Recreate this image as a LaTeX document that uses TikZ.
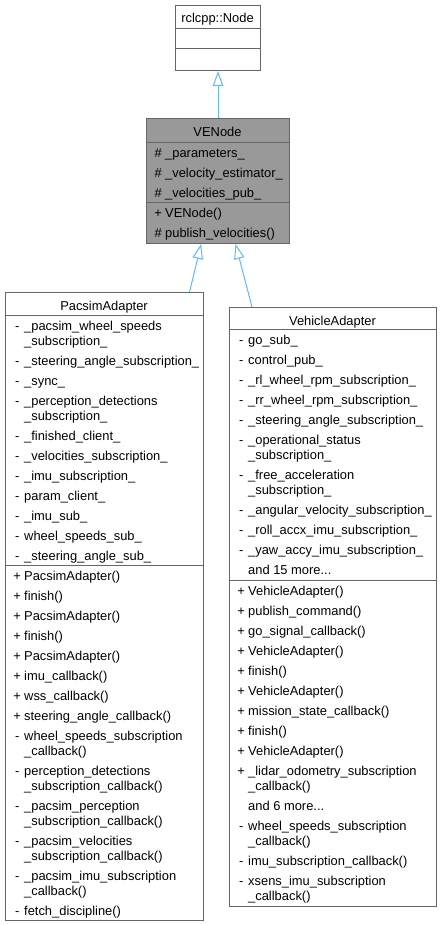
\documentclass[tikz,border=0pt]{standalone}
\usepackage{fontspec}
\setmainfont{Liberation Sans}
\usetikzlibrary{arrows.meta}
\definecolor{edgeblue}{HTML}{63B8FF}
\definecolor{bord}{HTML}{666666}
\definecolor{curfill}{HTML}{999999}
\newcommand\rs{\rule[-4.5pt]{0pt}{15pt}}
\newcommand\mem[2]{\rs\makebox[14pt][c]{#1}#2}
\newcommand\cont[1]{\rs\hspace*{14pt}#1}
\begin{document}
\begin{tikzpicture}[x=1pt,y=-1pt,
  comp/.style={draw=bord, line width=1pt, inner sep=0pt, anchor=north west},
  txt/.style={inner sep=0pt, anchor=north west, align=left, font=\fontsize{12.9pt}{15pt}\selectfont},
  ttl/.style={inner sep=0pt, anchor=base, font=\fontsize{12.9pt}{15pt}\selectfont},
  inh/.style={draw=edgeblue, line width=1pt, -{Triangle[open, length=15pt, width=10.5pt]}}]
\useasboundingbox (0,0) rectangle (442,925);
\fill[white] (0,0) rectangle (442,925);

% rclcpp::Node
\node[comp, fill=white, minimum width=85pt, minimum height=23pt] (rcl-t) at (175,5) {};
\node[comp, fill=white, minimum width=85pt, minimum height=20pt] (rcl-a) at (175,28) {};
\node[comp, fill=white, minimum width=85pt, minimum height=22pt] (rcl-m) at (175,48) {};
\node[ttl] (rcl-name) at (217.5,22.5) {rclcpp::Node};

% VENode
\node[comp, fill=curfill, minimum width=143pt, minimum height=24pt] (ve-t) at (146,118) {};
\node[comp, fill=curfill, minimum width=143pt, minimum height=60pt] (ve-a) at (146,142) {};
\node[comp, fill=curfill, minimum width=143pt, minimum height=41pt] (ve-m) at (146,202) {};
\node[ttl] (ve-name) at (217.5,136.5) {VENode};
\node[txt] (ve-atxt) at (151,147) {\mem{\#}{\_parameters\_}\\[5pt]\mem{\#}{\_velocity\_estimator\_}\\[5pt]\mem{\#}{\_velocities\_pub\_}};
\node[txt] (ve-mtxt) at (151,207) {\mem{+}{VENode()}\\[5pt]\mem{\#}{publish\_velocities()}};

% PacsimAdapter
\node[comp, fill=white, minimum width=198pt, minimum height=23pt] (pa-t) at (5,292) {};
\node[comp, fill=white, minimum width=198pt, minimum height=250pt] (pa-a) at (5,315) {};
\node[comp, fill=white, minimum width=198pt, minimum height=355pt] (pa-m) at (5,565) {};
\node[ttl] (pa-name) at (104,310) {PacsimAdapter};
\node[txt] (pa-atxt) at (10,320) {%
\mem{-}{\_pacsim\_wheel\_speeds}\\\cont{\_subscription\_}\\[5pt]
\mem{-}{\_steering\_angle\_subscription\_}\\[5pt]
\mem{-}{\_sync\_}\\[5pt]
\mem{-}{\_perception\_detections}\\\cont{\_subscription\_}\\[5pt]
\mem{-}{\_finished\_client\_}\\[5pt]
\mem{-}{\_velocities\_subscription\_}\\[5pt]
\mem{-}{\_imu\_subscription\_}\\[5pt]
\mem{-}{param\_client\_}\\[5pt]
\mem{-}{\_imu\_sub\_}\\[5pt]
\mem{-}{wheel\_speeds\_sub\_}\\[5pt]
\mem{-}{\_steering\_angle\_sub\_}};
\node[txt] (pa-mtxt) at (10,570) {%
\mem{+}{PacsimAdapter()}\\[5pt]
\mem{+}{finish()}\\[5pt]
\mem{+}{PacsimAdapter()}\\[5pt]
\mem{+}{finish()}\\[5pt]
\mem{+}{PacsimAdapter()}\\[5pt]
\mem{+}{imu\_callback()}\\[5pt]
\mem{+}{wss\_callback()}\\[5pt]
\mem{+}{steering\_angle\_callback()}\\[5pt]
\mem{-}{wheel\_speeds\_subscription}\\\cont{\_callback()}\\[5pt]
\mem{-}{perception\_detections}\\\cont{\_subscription\_callback()}\\[5pt]
\mem{-}{\_pacsim\_perception}\\\cont{\_subscription\_callback()}\\[5pt]
\mem{-}{\_pacsim\_velocities}\\\cont{\_subscription\_callback()}\\[5pt]
\mem{-}{\_pacsim\_imu\_subscription}\\\cont{\_callback()}\\[5pt]
\mem{-}{fetch\_discipline()}};

% VehicleAdapter
\node[comp, fill=white, minimum width=207pt, minimum height=22pt] (va-t) at (229,307) {};
\node[comp, fill=white, minimum width=207pt, minimum height=251pt] (va-a) at (229,329) {};
\node[comp, fill=white, minimum width=207pt, minimum height=326pt] (va-m) at (229,580) {};
\node[ttl] (va-name) at (332.5,325) {VehicleAdapter};
\node[txt] (va-atxt) at (234,334) {%
\mem{-}{go\_sub\_}\\[5pt]
\mem{-}{control\_pub\_}\\[5pt]
\mem{-}{\_rl\_wheel\_rpm\_subscription\_}\\[5pt]
\mem{-}{\_rr\_wheel\_rpm\_subscription\_}\\[5pt]
\mem{-}{\_steering\_angle\_subscription\_}\\[5pt]
\mem{-}{\_operational\_status}\\\cont{\_subscription\_}\\[5pt]
\mem{-}{\_free\_acceleration}\\\cont{\_subscription\_}\\[5pt]
\mem{-}{\_angular\_velocity\_subscription\_}\\[5pt]
\mem{-}{\_roll\_accx\_imu\_subscription\_}\\[5pt]
\mem{-}{\_yaw\_accy\_imu\_subscription\_}\\[5pt]
\cont{and 15 more...}};
\node[txt] (va-mtxt) at (234,585) {%
\mem{+}{VehicleAdapter()}\\[5pt]
\mem{+}{publish\_command()}\\[5pt]
\mem{+}{go\_signal\_callback()}\\[5pt]
\mem{+}{VehicleAdapter()}\\[5pt]
\mem{+}{finish()}\\[5pt]
\mem{+}{VehicleAdapter()}\\[5pt]
\mem{+}{mission\_state\_callback()}\\[5pt]
\mem{+}{finish()}\\[5pt]
\mem{+}{VehicleAdapter()}\\[5pt]
\mem{+}{\_lidar\_odometry\_subscription}\\\cont{\_callback()}\\[5pt]
\cont{and 6 more...}\\[5pt]
\mem{-}{wheel\_speeds\_subscription}\\\cont{\_callback()}\\[5pt]
\mem{-}{imu\_subscription\_callback()}\\[5pt]
\mem{-}{xsens\_imu\_subscription}\\\cont{\_callback()}};

% inheritance connectors
\draw[inh] (ve-t.north) -- (rcl-m.south);
\draw[inh] ([xshift=85pt]pa-t.north) -- ([xshift=-16.8pt]ve-m.south);
\draw[inh] ([xshift=-81pt]va-t.north) -- ([xshift=17.5pt]ve-m.south);
\end{tikzpicture}
\end{document}
